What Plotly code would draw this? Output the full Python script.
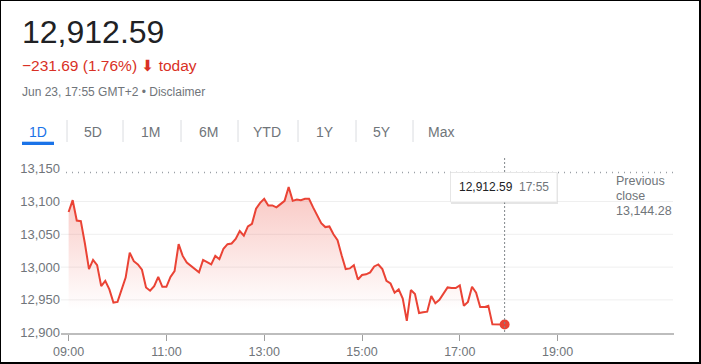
import plotly.graph_objects as go

W, H = 701, 364

# ---------------- data ----------------
DATE = "2020-06-23"
times = [
    "09:00", "09:05", "09:10", "09:15", "09:20", "09:25", "09:30", "09:35", "09:40", "09:45", "09:50", "09:55",
    "10:00", "10:05", "10:10", "10:15", "10:20", "10:25", "10:30", "10:35", "10:40", "10:45", "10:50", "10:55",
    "11:00", "11:05", "11:10", "11:15", "11:20", "11:25", "11:30", "11:35", "11:40", "11:45", "11:50", "11:55",
    "12:00", "12:05", "12:10", "12:15", "12:20", "12:25", "12:30", "12:35", "12:40", "12:45", "12:50", "12:55",
    "13:00", "13:05", "13:10", "13:15", "13:20", "13:25", "13:30", "13:35", "13:40", "13:45", "13:50", "13:55",
    "14:00", "14:05", "14:10", "14:15", "14:20", "14:25", "14:30", "14:35", "14:40", "14:45", "14:50", "14:55",
    "15:00", "15:05", "15:10", "15:15", "15:20", "15:25", "15:30", "15:35", "15:40", "15:45", "15:50", "15:55",
    "16:00", "16:05", "16:10", "16:15", "16:20", "16:25", "16:30", "16:35", "16:40", "16:45", "16:50", "16:55",
    "17:00", "17:05", "17:10", "17:15", "17:20", "17:25", "17:30", "17:35", "17:40", "17:45", "17:50", "17:55",
]
values = [
    13084, 13102, 13071, 13070, 13036, 12997, 13011, 13003, 12971, 12979, 12966, 12946,
    12947, 12965, 12984, 13022, 13009, 13004, 12996, 12969, 12964, 12971, 12985, 12970,
    12970, 12985, 12994, 13035, 13017, 13007, 13002, 12996, 12992, 13011, 13008, 13004,
    13017, 13012, 13028, 13035, 13036, 13043, 13055, 13048, 13062, 13066, 13089, 13098,
    13104, 13094, 13094, 13091, 13096, 13101, 13122, 13101, 13103, 13102, 13104, 13104,
    13091, 13078, 13067, 13061, 13062, 13050, 13041, 13018, 12997, 12998, 13003, 12981,
    12988, 12989, 12992, 13001, 13004, 12997, 12979, 12975, 12961, 12966, 12952, 12918,
    12965, 12959, 12930, 12931, 12932, 12956, 12945, 12950, 12960, 12969, 12968, 12968,
    12972, 12941, 12947, 12970, 12961, 12939, 12939, 12941, 12913, 12913, 12913, 12912.59,
]
previous_close = 13144.28
y_ticks = [12900, 12950, 13000, 13050, 13100, 13150]
grid_vals = [12950, 13000, 13050, 13100]
x_ticks = ["09:00", "11:00", "13:00", "15:00", "17:00", "19:00"]
tabs = ["1D", "5D", "1M", "6M", "YTD", "1Y", "5Y", "Max"]
price_text = "12,912.59"
change_text = "\u2212231.69 (1.76%)"
meta_text = "Jun 23, 17:55 GMT+2 \u2022 Disclaimer"

# ---------------- style ----------------
RED = "#ea4335"
RED_TXT = "#d93025"
GREY = "#70757a"
BLUE = "#1a73e8"
FONT = "Arial, Liberation Sans, sans-serif"

xs = [f"{DATE} {t}" for t in times]


def px(x):
    return x / W


def py(y):
    return 1 - y / H


x_dom = [px(61), px(674)]
y_dom = [py(332.7), py(158)]

fig = go.Figure()

fig.add_trace(go.Scatter(
    x=xs, y=values, mode="lines",
    line=dict(color=RED, width=2),
    fill="tozeroy",
    fillgradient=dict(type="vertical", start=12935, stop=max(values),
                      colorscale=[[0, "rgba(234,67,53,0)"], [1, "rgba(234,67,53,0.30)"]]),
    hoverinfo="skip",
))
fig.add_trace(go.Scatter(
    x=[xs[-1]], y=[values[-1]], mode="markers",
    marker=dict(color=RED, size=10), hoverinfo="skip",
))

shapes = []
# gridlines
for g in grid_vals:
    shapes.append(dict(type="line", xref="paper", yref="y", x0=px(61), x1=px(673), y0=g, y1=g,
                       line=dict(color="#efefef", width=1), layer="below"))
# previous close dotted line
shapes.append(dict(type="line", xref="paper", yref="y", x0=px(66), x1=px(673),
                   y0=previous_close, y1=previous_close,
                   line=dict(color="#9aa0a6", width=1.5, dash="1px,5px"), layer="above"))
# vertical dotted crosshair
shapes.append(dict(type="line", xref="x", yref="paper", x0=xs[-1], x1=xs[-1], y0=py(332), y1=py(157),
                   line=dict(color="#80868b", width=1, dash="2px,2px"), layer="above"))
# tooltip shadow + box
shapes.append(dict(type="rect", xref="paper", yref="paper", x0=px(451), x1=px(558), y0=py(204), y1=py(173),
                   line=dict(width=0), fillcolor="rgba(0,0,0,0.10)", layer="above"))
shapes.append(dict(type="rect", xref="paper", yref="paper", x0=px(450.5), x1=px(557), y0=py(202), y1=py(172.5),
                   line=dict(color="#e6e6e6", width=1), fillcolor="white", layer="above"))
# tab separators
for sx in [67, 123, 181, 238, 298, 356, 413]:
    shapes.append(dict(type="line", xref="paper", yref="paper", x0=px(sx), x1=px(sx), y0=py(120), y1=py(142),
                       line=dict(color="#dadce0", width=1)))
# tab underline
shapes.append(dict(type="rect", xref="paper", yref="paper", x0=px(22), x1=px(54), y0=py(145), y1=py(141.7),
                   line=dict(width=0), fillcolor=BLUE))
# frame border
for (a, b, c, d) in [(0, 1, 0, H), (699, W, 0, H), (0, W, 0, 1), (0, W, 362, H)]:
    shapes.append(dict(type="rect", xref="paper", yref="paper", x0=px(a), x1=px(b), y0=py(d), y1=py(c),
                       line=dict(width=0), fillcolor="black", layer="above"))

ann = []


def text(x, y, s, size, color, anchor="left"):
    ann.append(dict(xref="paper", yref="paper", x=px(x), y=py(y), text=s, showarrow=False,
                    xanchor=anchor, yanchor="middle", font=dict(family=FONT, size=size, color=color)))


text(20, 32, price_text, 32, "#202124")
text(20, 66, change_text + " <span style='font-family:DejaVu Sans'>\u2b07</span> today", 15.5, RED_TXT)
text(20, 92, meta_text, 12, GREY)
tab_centers = [38, 93, 150, 208, 267, 325, 382, 441]
for t, cx in zip(tabs, tab_centers):
    text(cx, 131.5, t, 14, BLUE if t == "1D" else GREY, anchor="center")
# previous close label
text(614, 181, "Previous", 12.5, GREY)
text(614, 196, "close", 12.5, GREY)
text(614, 211, f"{previous_close:,.2f}", 12.5, GREY)
# tooltip text
text(457, 187.5, f"{values[-1]:,.2f}", 12, "#202124")
text(517, 187.5, times[-1], 12, GREY)

fig.update_layout(
    width=W, height=H, margin=dict(l=0, r=0, t=0, b=0, autoexpand=False),
    paper_bgcolor="white", plot_bgcolor="white",
    showlegend=False, shapes=shapes, annotations=ann,
    font=dict(family=FONT, color=GREY),
    xaxis=dict(domain=x_dom, type="date", automargin=False,
               range=[f"{DATE} 08:50:40", f"{DATE} 21:22:50"],
               tickvals=[f"{DATE} {t}" for t in x_ticks], ticktext=x_ticks,
               showgrid=False, zeroline=False, showline=True, linecolor="#bdbdbd", linewidth=2,
               ticks="outside", ticklen=6, tickcolor="#9e9e9e", tickwidth=1,
               tickfont=dict(size=12.5, color=GREY, family=FONT)),
    yaxis=dict(domain=y_dom, range=[12900, 13166.3], tickvals=y_ticks, tickformat=",",
               automargin=False,
               showgrid=False, zeroline=False, showline=False, ticks="",
               tickfont=dict(size=13, color=GREY, family=FONT)),
)

fig.write_html("out.html", config={"displayModeBar": False})
